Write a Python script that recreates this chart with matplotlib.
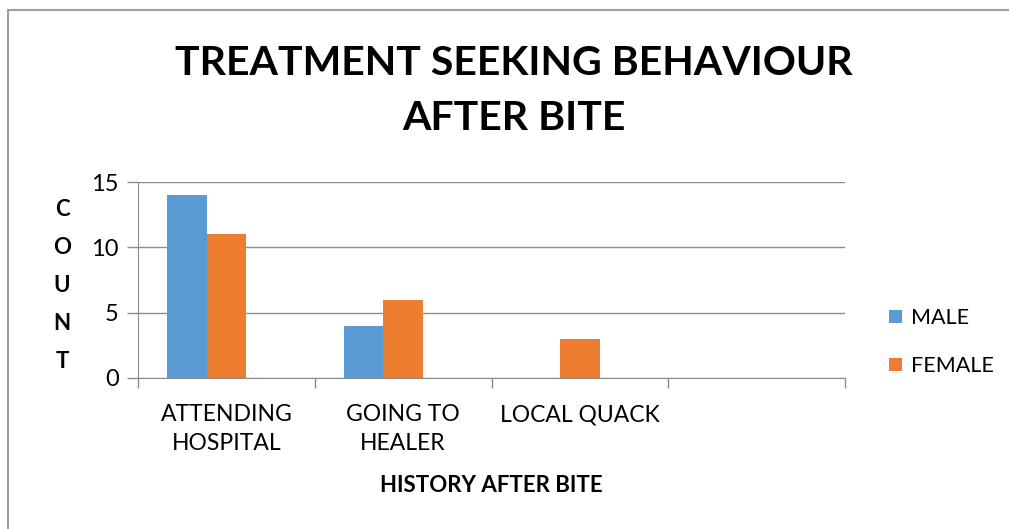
import numpy as np
import matplotlib.pyplot as plt
from matplotlib.patches import Rectangle

plt.rcParams['font.family'] = ['Lato', 'DejaVu Sans']

# Data
categories = ["ATTENDING\nHOSPITAL", "GOING TO\nHEALER", "LOCAL QUACK", ""]
male = [14, 4, 0, 0]
female = [11, 6, 3, 0]
series_names = ["MALE", "FEMALE"]
colors = ["#5B9BD5", "#ED7D31"]

W, H = 1009, 529
fig = plt.figure(figsize=(W / 100, H / 100), dpi=100)

# chart-area border (top and left edges visible)
fig.patches.append(Rectangle((8 / W, -0.1), 1.2, 1 - 10 / H + 0.1, transform=fig.transFigure,
                             fill=False, edgecolor="#a0a0a0", linewidth=1.5))

ax = fig.add_axes([138 / W, 1 - 378 / H, (845 - 138) / W, (378 - 182) / H])

x = np.arange(len(categories))
# three series slots per category (third is empty), gap width 150%
bw = 1 / 4.5
ax.bar(x - bw, male, bw, color=colors[0], label=series_names[0])
ax.bar(x, female, bw, color=colors[1], label=series_names[1])

ax.set_xlim(-0.5, len(categories) - 0.5)
ax.set_ylim(0, 15)
ax.set_yticks([0, 5, 10, 15])
ax.yaxis.grid(True, color="#8c8c8c", linewidth=1)
ax.set_axisbelow(True)

ax.set_xticks(np.arange(-0.5, len(categories)), labels=[])
ax.set_xticks(x, labels=categories, minor=True)
ax.tick_params(axis="x", which="minor", length=0, pad=19, labelsize=16.5)
ax.tick_params(axis="x", which="major", length=7, color="#8c8c8c", width=1)
ax.tick_params(axis="y", length=8, color="#8c8c8c", width=1, labelsize=17, pad=6)
for lab in ax.get_xticklabels(minor=True):
    lab.set_linespacing(1.45)

for s in ["top", "right"]:
    ax.spines[s].set_visible(False)
ax.spines["left"].set_color("#8c8c8c")
ax.spines["bottom"].set_color("#8c8c8c")

fig.text(514 / W, 1 - 91 / H, "TREATMENT SEEKING BEHAVIOUR\nAFTER BITE", ha="center", va="center",
         fontsize=29.5, fontweight="bold", linespacing=1.6)
fig.text(491 / W, 1 - 486 / H, "HISTORY AFTER BITE", ha="center", va="center",
         fontsize=16, fontweight="bold")
for i, ch in enumerate("COUNT"):
    fig.text(62 / W, 1 - (210 + 38 * i) / H, ch, ha="center", va="center",
             fontsize=16, fontweight="bold")

fig.legend(loc="center left", bbox_to_anchor=(870 / W, 1 - 342 / H), frameon=False,
           fontsize=15.5, handlelength=0.6, handleheight=0.6, handletextpad=0.4,
           labelspacing=1.3)

fig.savefig("out.png", dpi=100)
